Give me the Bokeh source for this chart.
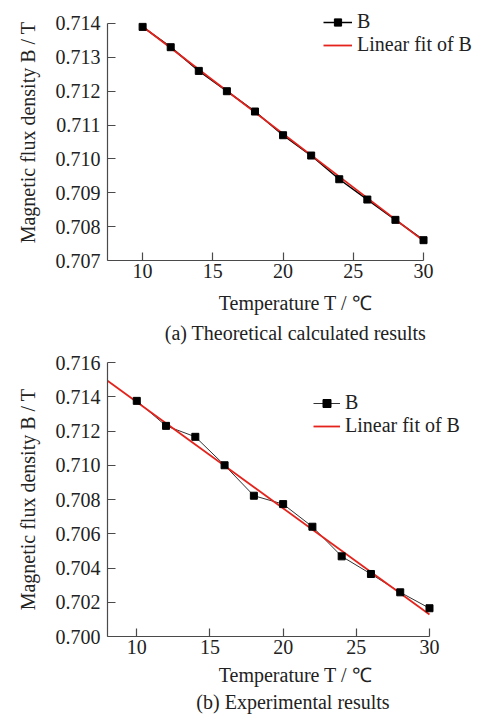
from bokeh.plotting import figure
from bokeh.models import Range1d, FixedTicker, PrintfTickFormatter, Legend, LegendItem, Title
from bokeh.layouts import column
from bokeh.embed import file_html
from bokeh.resources import INLINE

# ---- data ----
temperature = [10, 12, 14, 16, 18, 20, 22, 24, 26, 28, 30]
b_theory = [0.7139, 0.7133, 0.7126, 0.7120, 0.7114, 0.7107, 0.7101, 0.7094, 0.7088, 0.7082, 0.7076]
fit_theory_x = [10, 30]
fit_theory_y = [0.71391, 0.70758]

b_exp = [0.71376, 0.71230, 0.71166, 0.71000, 0.70822, 0.70773, 0.70641, 0.70468, 0.70365, 0.70258, 0.70165]
fit_exp_x = [8, 30]
fit_exp_y = [0.71493, 0.70128]

x_ticks = [10, 15, 20, 25, 30]
y_ticks_a = [0.707, 0.708, 0.709, 0.710, 0.711, 0.712, 0.713, 0.714]
y_ticks_b = [0.700, 0.702, 0.704, 0.706, 0.708, 0.710, 0.712, 0.714, 0.716]

captions = ["(a) Theoretical calculated results", "(b) Experimental  results"]
x_label = "Temperature T / \u2103"
y_label = "Magnetic flux density B / T"
legend_labels = ["B", "Linear fit of B"]

FONT = "Liberation Serif"
RED = "#e3231c"
AX = "#4a4a4a"


def make_panel(y, fit_x, fit_y, xr, xb, yr, yb, yticks, caption,
               fw, fh, bl, br, bt, bb, leg_loc, leg_glyph_w, leg_h, line_w, line_col,
               tick_so, label_so, title_so):
    p = figure(output_backend="svg", toolbar_location=None,
               frame_width=fw, frame_height=fh,
               min_border_left=bl, min_border_right=br, min_border_top=bt, min_border_bottom=bb,
               x_range=Range1d(*xr), y_range=Range1d(*yr))
    p.background_fill_color = "white"
    p.border_fill_color = "white"
    p.outline_line_color = None
    p.grid.visible = False

    for ax in (p.xaxis[0], p.yaxis[0]):
        ax.axis_line_color = AX
        ax.axis_line_width = 1.2
        ax.major_tick_line_color = AX
        ax.major_tick_line_width = 1.2
        ax.major_tick_in = 8
        ax.major_tick_out = 0
        ax.minor_tick_line_color = None
        ax.major_label_text_font = FONT
        ax.major_label_text_font_size = "20px"
        ax.major_label_text_color = "#222222"
        ax.axis_label_text_font = FONT
        ax.axis_label_text_font_size = "20px"
        ax.axis_label_text_font_style = "normal"
        ax.axis_label_text_color = "#222222"

    p.xaxis.ticker = FixedTicker(ticks=x_ticks)
    p.xaxis.bounds = xb
    p.xaxis.major_label_standoff = tick_so
    p.xaxis.axis_label = x_label
    p.xaxis.axis_label_standoff = label_so

    p.yaxis.ticker = FixedTicker(ticks=yticks)
    p.yaxis.bounds = yb
    p.yaxis.formatter = PrintfTickFormatter(format="%.3f")
    p.yaxis.major_label_standoff = 7
    p.yaxis.axis_label = y_label
    p.yaxis.axis_label_standoff = 14

    ln = p.line(temperature, y, line_color=line_col, line_width=line_w)
    fit = p.line(fit_x, fit_y, line_color=RED, line_width=1.8)
    sq = p.scatter(temperature, y, marker="square", size=7,
                   fill_color="black", line_color="black")

    leg = Legend(items=[LegendItem(label=legend_labels[0], renderers=[ln, sq]),
                        LegendItem(label=legend_labels[1], renderers=[fit])],
                 location=leg_loc)
    leg.background_fill_alpha = 0
    leg.border_line_alpha = 0
    leg.padding = 0
    leg.margin = 0
    leg.spacing = 0
    leg.glyph_width = leg_glyph_w
    leg.glyph_height = leg_h
    leg.label_height = leg_h
    leg.label_standoff = 5
    leg.label_text_font = FONT
    leg.label_text_font_size = "20px"
    leg.label_text_color = "#222222"
    p.add_layout(leg)

    t = Title(text=caption, align="center", text_font=FONT, text_font_size="20px",
              text_font_style="normal", text_color="#222222", standoff=title_so)
    p.add_layout(t, "below")
    return p


p1 = make_panel(b_theory, fit_theory_x, fit_theory_y,
                xr=(7.5, 34.27), xb=(7.5, 30), yr=(0.707, 0.714561), yb=(0.707, 0.714),
                yticks=y_ticks_a, caption=captions[0],
                fw=376, fh=256, bl=107, br=0, bt=4, bb=87,
                leg_loc=(216, 204), leg_glyph_w=29, leg_h=18, line_w=1.5, line_col="black",
                tick_so=3, label_so=11, title_so=7)

p2 = make_panel(b_exp, fit_exp_x, fit_exp_y,
                xr=(8, 33.69), xb=(8, 30), yr=(0.700, 0.716), yb=(0.700, 0.716),
                yticks=y_ticks_b, caption=captions[1],
                fw=376, fh=274, bl=107, br=0, bt=15, bb=80,
                leg_loc=(206, 199), leg_glyph_w=27, leg_h=20, line_w=1.0, line_col="#333333",
                tick_so=3, label_so=7, title_so=0)

layout = column(p1, p2, spacing=0)
open("out.html", "w").write(file_html(layout, INLINE))
